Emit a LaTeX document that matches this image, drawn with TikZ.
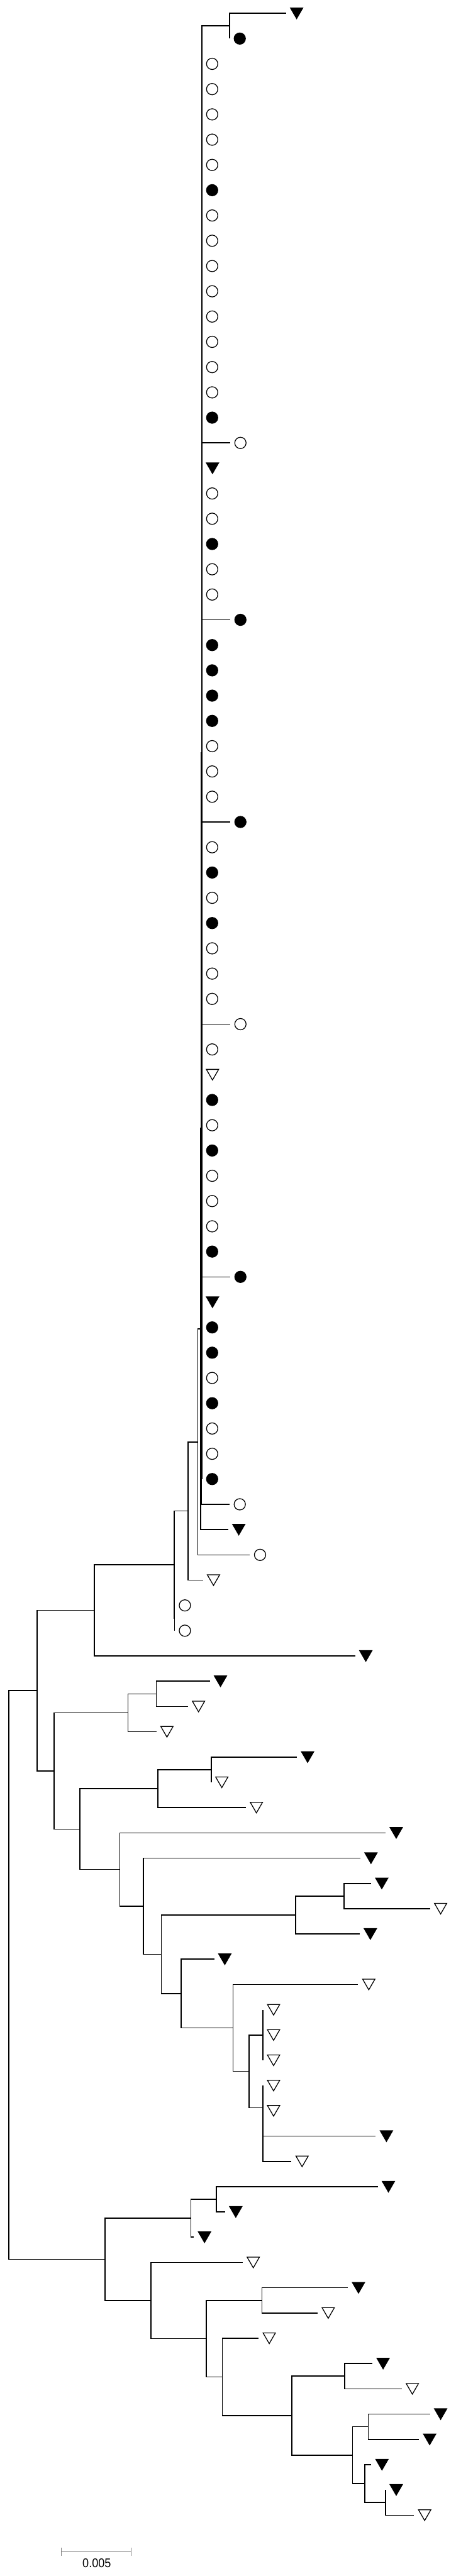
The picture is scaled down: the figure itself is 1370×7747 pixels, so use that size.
\documentclass[tikz,border=0pt]{standalone}
\usepackage{fontspec}
\usepackage{graphicx}
\setmainfont{Liberation Sans}
\usetikzlibrary{shapes.geometric}
\begin{document}
\begin{tikzpicture}[x=0.5pt,y=-0.5pt,
  branchline/.style={line width=1.5pt, line join=miter},
  leafbase/.style={draw=black, line width=1.2pt, inner sep=0pt, outer sep=0pt},
  ocirc/.style={leafbase, circle, fill=white, minimum size=17pt, xshift=15.5pt},
  fcirc/.style={leafbase, circle, fill=black, minimum size=17pt, xshift=15.5pt},
  otri/.style={leafbase, regular polygon, regular polygon sides=3, shape border rotate=180, fill=white, minimum size=21.4pt, xshift=16pt, yshift=2.67pt},
  ftri/.style={leafbase, regular polygon, regular polygon sides=3, shape border rotate=180, fill=black, minimum size=21.4pt, xshift=16pt, yshift=2.67pt},
  scalebar/.style={gray, line width=1.2pt}
]
\fill[white] (0,0) rectangle (1370,7747);
\useasboundingbox (0,0) rectangle (1370,7747);

% internal nodes
\foreach \n/\x/\y in {TC/690/78, D/607/2263, C/605.5/3393.5, B/603/3996.75, E/595/4336.4,
  F/566/4544.2, H/525/4866, G/524/4705.1, I/284/4842.6, J/112/5084.2, K/27/5939.5,
  L/162.5/5325.8, M/384.5/5151, N/470/5094, O/240/5500.6, P/474.5/5379, Q/635/5322,
  R/360/5622.3, S/431/5732.6, T/485/5877.2, U/888.6/5759, V/1034.5/5702, W/545/5995.3,
  X/700.7/6098.6, Y/748.8/6229.25, Z1/790.7/6120, Z2/790.7/6338.5,
  AA/316.3/6794.8, AB/574/6671, AC/651/6614, AD/454.4/6918.6, AE/620.4/7033.2,
  AF/788/6918, AG/668.4/7148.4, AH/878/7264.75, AI/1037/7146, AJ/1060/7383.5,
  AK/1107/7298, AL/1096.5/7469, AM/1159.5/7526}
  \coordinate (n\n) at (\x,\y);

% internal edges
\foreach \p/\c in {K/J, K/AA, J/I, J/L, I/G, G/F, G/H, F/E, E/B, B/C, C/D, D/TC,
  L/M, L/O, M/N, O/P, O/R, P/Q, R/S, S/T, T/U, T/W, U/V, W/X, X/Y, Y/Z1, Y/Z2,
  AA/AB, AA/AD, AB/AC, AD/AE, AE/AF, AE/AG, AG/AH, AH/AI, AH/AJ, AJ/AK, AJ/AL, AL/AM}
  \draw[branchline] (n\p) |- (n\c);

% leaves
\foreach \i/\x/\t/\p in {0/860/ftri/TC, 1/690/fcirc/TC,
  2/607/ocirc/D, 3/607/ocirc/D, 4/607/ocirc/D, 5/607/ocirc/D, 6/607/ocirc/D,
  7/607/fcirc/D, 8/607/ocirc/D, 9/607/ocirc/D, 10/607/ocirc/D, 11/607/ocirc/D,
  12/607/ocirc/D, 13/607/ocirc/D, 14/607/ocirc/D, 15/607/ocirc/D, 16/607/fcirc/D,
  17/692/ocirc/D, 18/607/ftri/D, 19/607/ocirc/D, 20/607/ocirc/D, 21/607/fcirc/D,
  22/607/ocirc/D, 23/607/ocirc/D, 24/692/fcirc/D, 25/607/fcirc/D, 26/607/fcirc/D,
  27/607/fcirc/D, 28/607/fcirc/D, 29/607/ocirc/D, 30/607/ocirc/D, 31/607/ocirc/D,
  32/692/fcirc/D, 33/607/ocirc/D, 34/607/fcirc/D, 35/607/ocirc/D, 36/607/fcirc/D,
  37/607/ocirc/D, 38/607/ocirc/D, 39/607/ocirc/D, 40/692/ocirc/D, 41/607/ocirc/D,
  42/607/otri/D, 43/607/fcirc/D, 44/607/ocirc/D, 45/607/fcirc/D, 46/607/ocirc/D,
  47/607/ocirc/D, 48/607/ocirc/D, 49/607/fcirc/D, 50/692/fcirc/D, 51/607/ftri/D,
  52/607/fcirc/D, 53/607/fcirc/D, 54/607/ocirc/D, 55/607/fcirc/D, 56/607/ocirc/D,
  57/607/ocirc/D, 58/607/fcirc/D,
  59/690/ocirc/C, 60/686/ftri/B, 61/751/ocirc/E, 62/610/otri/F, 63/525/ocirc/H,
  64/525/ocirc/H, 65/1068/ftri/I, 66/631/ftri/N, 67/565/otri/N, 68/470/otri/M,
  69/893/ftri/Q, 70/635/otri/Q, 71/739/otri/P, 72/1159.5/ftri/R, 73/1083.5/ftri/S,
  74/1116/ftri/V, 75/1293/otri/V, 76/1081.7/ftri/U, 77/644/ftri/W, 78/1077/otri/X,
  79/790.7/otri/Z1, 80/790.7/otri/Z1, 81/790.7/otri/Z1, 82/790.7/otri/Z2,
  83/790.7/otri/Z2, 84/1130/ftri/Z2, 85/876.4/otri/Z2, 86/1136/ftri/AC,
  87/677/ftri/AC, 88/583/ftri/AB, 89/729.6/otri/AD, 90/1046/ftri/AF, 91/955/otri/AF,
  92/777.6/otri/AG, 93/1120/ftri/AI, 94/1208/otri/AI, 95/1293/ftri/AK,
  96/1260/ftri/AK, 97/1116.6/ftri/AL, 98/1159.5/ftri/AM, 99/1245/otri/AM}
{
  \coordinate (l\i) at (\x,{40+76*\i});
  \draw[branchline] (n\p) |- (l\i);
  \node[\t] (m\i) at (l\i) {};
}

% scale bar
\coordinate (sbL) at (185,7674);
\coordinate (sbR) at (394,7674);
\coordinate (sbLt) at (185,7661);
\coordinate (sbLb) at (185,7687);
\coordinate (sbRt) at (394,7661);
\coordinate (sbRb) at (394,7687);
\draw[scalebar] (sbL) -- (sbR);
\draw[scalebar] (sbLt) -- (sbLb);
\draw[scalebar] (sbRt) -- (sbRb);
\node[inner sep=0pt, font=\fontsize{19}{22}\selectfont] (sbtext) at (291,7708) {\scalebox{0.9}[1]{0.005}};
\end{tikzpicture}
\end{document}
